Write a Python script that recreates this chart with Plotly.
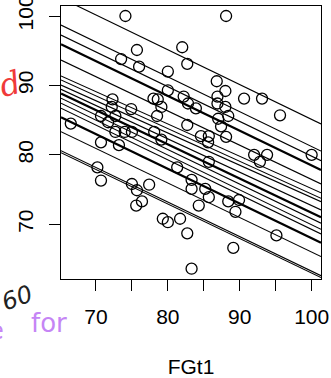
import plotly.graph_objects as go

# data points (FGt1 vs y)
fgt1 = [74.1, 88.1, 75.7, 82.0, 73.5, 76.0, 82.7, 80.0, 86.8, 80.0, 88.0, 72.3, 78.0, 78.6,
        82.2, 86.9, 90.6, 93.1, 82.8, 86.9, 72.2, 79.1, 83.9, 88.0, 74.9, 70.7, 72.7, 78.5,
        88.4, 95.6, 87.0, 66.5, 71.7, 82.7, 87.4, 72.7, 74.0, 75.0, 78.1, 79.1, 84.6, 85.7,
        85.6, 88.1, 70.7, 73.2, 92.0, 93.8, 92.8, 85.7, 100.0, 70.2, 81.3, 70.7, 75.0, 77.4,
        83.3, 75.7, 83.3, 85.2, 85.7, 75.6, 76.4, 84.3, 88.4, 89.9, 89.4, 79.3, 80.0, 81.7,
        82.7, 95.1, 89.1, 83.3]
yvals = [100.0, 100.0, 95.1, 95.5, 93.8, 92.7, 93.1, 92.0, 90.6, 89.3, 89.2, 88.0, 88.1, 88.0,
         88.4, 88.4, 88.1, 88.1, 87.4, 87.4, 86.9, 86.9, 86.7, 86.9, 86.6, 85.6, 85.6, 85.6,
         85.6, 85.7, 85.2, 84.5, 84.7, 84.3, 84.1, 83.3, 83.3, 83.3, 83.3, 82.2, 82.7, 82.7,
         81.8, 82.6, 81.8, 81.4, 80.0, 80.0, 79.0, 79.0, 80.0, 78.2, 78.2, 76.3, 75.8, 75.7,
         76.4, 74.9, 75.1, 75.1, 73.9, 72.7, 73.3, 72.7, 73.3, 73.5, 71.8, 70.8, 70.3, 70.8,
         68.7, 68.4, 66.6, 63.6]

# fitted lines: intercept and slope of each line (y = a + b * FGt1)
line_intercepts = [135.27, 131.38, 129.87, 128.53, 125.81, 121.64, 121.46, 120.32, 120.75,
                   120.96, 120.58, 120.13, 119.32, 117.94, 115.77, 113.03, 112.68]
line_slopes = [-0.5017, -0.5017, -0.5006, -0.5006, -0.4936, -0.4649, -0.4710, -0.4646, -0.4806,
               -0.4931, -0.4978, -0.5019, -0.5006, -0.4994, -0.4978, -0.4978, -0.4970]
line_bold = [False, False, False, True, False, False, False, False, False,
             True, False, False, False, True, False, False, False]

x_ticks = [70, 75, 80, 85, 90, 95, 100]
x_ticktext = ["70", "", "80", "", "90", "", "100"]
y_ticks = [70, 80, 90, 100]

x_range = [65.14, 101.3]
y_range = [62.12, 101.44]

fig = go.Figure()
for a, b, bold in zip(line_intercepts, line_slopes, line_bold):
    xs = [x_range[0], x_range[1]]
    ys = [a + b * v for v in xs]
    fig.add_trace(go.Scatter(x=xs, y=ys, mode="lines",
                             line=dict(color="black", width=2.2 if bold else 1.1),
                             hoverinfo="skip", showlegend=False))

fig.add_trace(go.Scatter(x=fgt1, y=yvals, mode="markers",
                         marker=dict(symbol="circle-open", size=11,
                                     color="black", line=dict(width=1.3, color="black")),
                         showlegend=False))

font = dict(family="Liberation Sans, Arial, sans-serif", size=21, color="black")
fig.update_layout(
    width=331, height=378,
    margin=dict(l=61, r=10, t=6, b=99),
    paper_bgcolor="white", plot_bgcolor="white",
    font=font,
    xaxis=dict(range=x_range, tickvals=x_ticks, ticktext=x_ticktext,
               ticks="outside", ticklen=11, tickwidth=1, tickcolor="black",
               showline=True, linecolor="black", linewidth=1, mirror=True,
               showgrid=False, zeroline=False, automargin=False,
               ticklabeloverflow="allow", ticklabelstandoff=8,
               title=dict(text="FGt1", font=font, standoff=49)),
    yaxis=dict(range=y_range, tickvals=y_ticks, tickangle=-90,
               ticks="outside", ticklen=11, tickwidth=1, tickcolor="black",
               showline=True, linecolor="black", linewidth=1, mirror=True,
               showgrid=False, zeroline=False, automargin=False,
               ticklabeloverflow="allow", ticklabelstandoff=8),
)

# handwritten annotations
fig.add_annotation(x=-0.195, y=0.713, xref="paper", yref="paper", text="<i>d</i>", showarrow=False,
                   font=dict(family="DejaVu Serif", size=32, color="#f03a3a"),
                   xanchor="center", yanchor="middle", textangle=-15)
fig.add_annotation(x=-0.168, y=-0.07, xref="paper", yref="paper", text="<i>60</i>", showarrow=False,
                   font=dict(family="DejaVu Sans", size=24, color="#222222"),
                   xanchor="center", yanchor="middle", textangle=-20)
fig.add_annotation(x=-0.045, y=-0.16, xref="paper", yref="paper", text="for", showarrow=False,
                   font=dict(family="DejaVu Sans", size=26, color="#c585f5"),
                   xanchor="center", yanchor="middle")
fig.add_annotation(x=-0.248, y=-0.19, xref="paper", yref="paper", text="e", showarrow=False,
                   font=dict(family="DejaVu Sans", size=24, color="#c585f5"),
                   xanchor="center", yanchor="middle")

fig.write_html("out.html", config={"displayModeBar": False},
               post_script="document.body.style.margin='0';document.body.style.padding='0';")
